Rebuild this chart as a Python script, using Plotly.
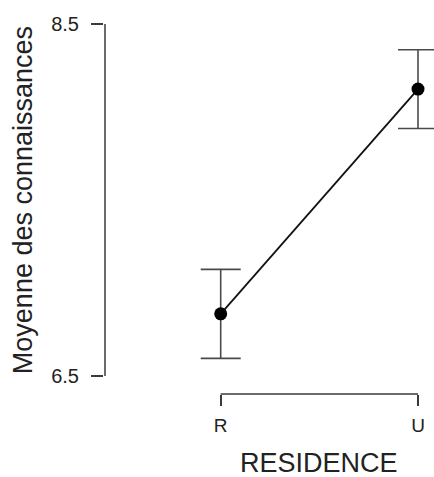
import plotly.graph_objects as go

# Mean knowledge score by residence, with confidence intervals
categories = ["R", "U"]
positions = [1, 2]
means = [6.853, 8.130]
ci_half = [0.253, 0.224]

y_ticks = [6.5, 8.5]
y_tick_labels = ["6.5", "8.5"]

x_title = "RESIDENCE"
y_title = "Moyenne des connaissances"

font_family = "Liberation Sans, Arial, Helvetica, sans-serif"
axis_color = "#3a3a3a"
text_color = "#222222"

fig = go.Figure()

fig.add_trace(go.Scatter(
    x=positions,
    y=means,
    mode="lines+markers",
    line=dict(color="#111111", width=1.8),
    marker=dict(color="#000000", size=13),
    error_y=dict(type="data", array=ci_half, visible=True,
                 color="#4a4a4a", thickness=1.6, width=20),
    showlegend=False,
    hoverinfo="skip",
))

# Axis lines spanning only the tick range (base-R style)
fig.add_shape(type="line", xref="paper", yref="y",
              x0=0.003, x1=0.003, y0=y_ticks[0], y1=y_ticks[-1],
              line=dict(color=axis_color, width=1.5))
fig.add_shape(type="line", xref="x", yref="paper",
              x0=positions[0], x1=positions[-1], y0=0, y1=0,
              line=dict(color=axis_color, width=1.5))

fig.add_annotation(text=x_title, xref="x", yref="paper",
                   x=(positions[0] + positions[-1]) / 2, y=-0.138,
                   xanchor="center", yanchor="top", showarrow=False,
                   font=dict(family=font_family, size=27, color=text_color))
fig.add_annotation(text=y_title, xref="paper", yref="y",
                   x=-0.245, y=(y_ticks[0] + y_ticks[-1]) / 2,
                   xanchor="center", yanchor="middle",
                   textangle=-90, showarrow=False,
                   font=dict(family=font_family, size=27, color=text_color))

fig.update_layout(
    width=434,
    height=477,
    margin=dict(l=104, r=0, t=14, b=83),
    paper_bgcolor="white",
    plot_bgcolor="white",
    font=dict(family=font_family, color=text_color),
    xaxis=dict(
        range=[0.4085, 2.0811],
        tickvals=positions,
        ticktext=categories,
        ticks="outside", ticklen=11, tickwidth=1.5, tickcolor=axis_color,
        showline=False, showgrid=False, zeroline=False,
        tickfont=dict(family=font_family, size=19, color=text_color),
        ticklabelstandoff=3,
    ),
    yaxis=dict(
        range=[6.3977, 8.5568],
        tickvals=y_ticks,
        ticktext=y_tick_labels,
        ticks="outside", ticklen=12, tickwidth=1.5, tickcolor=axis_color,
        showline=False, showgrid=False, zeroline=False,
        tickfont=dict(family=font_family, size=20, color=text_color),
        ticklabelstandoff=8,
    ),
)

fig.write_html("out.html")
